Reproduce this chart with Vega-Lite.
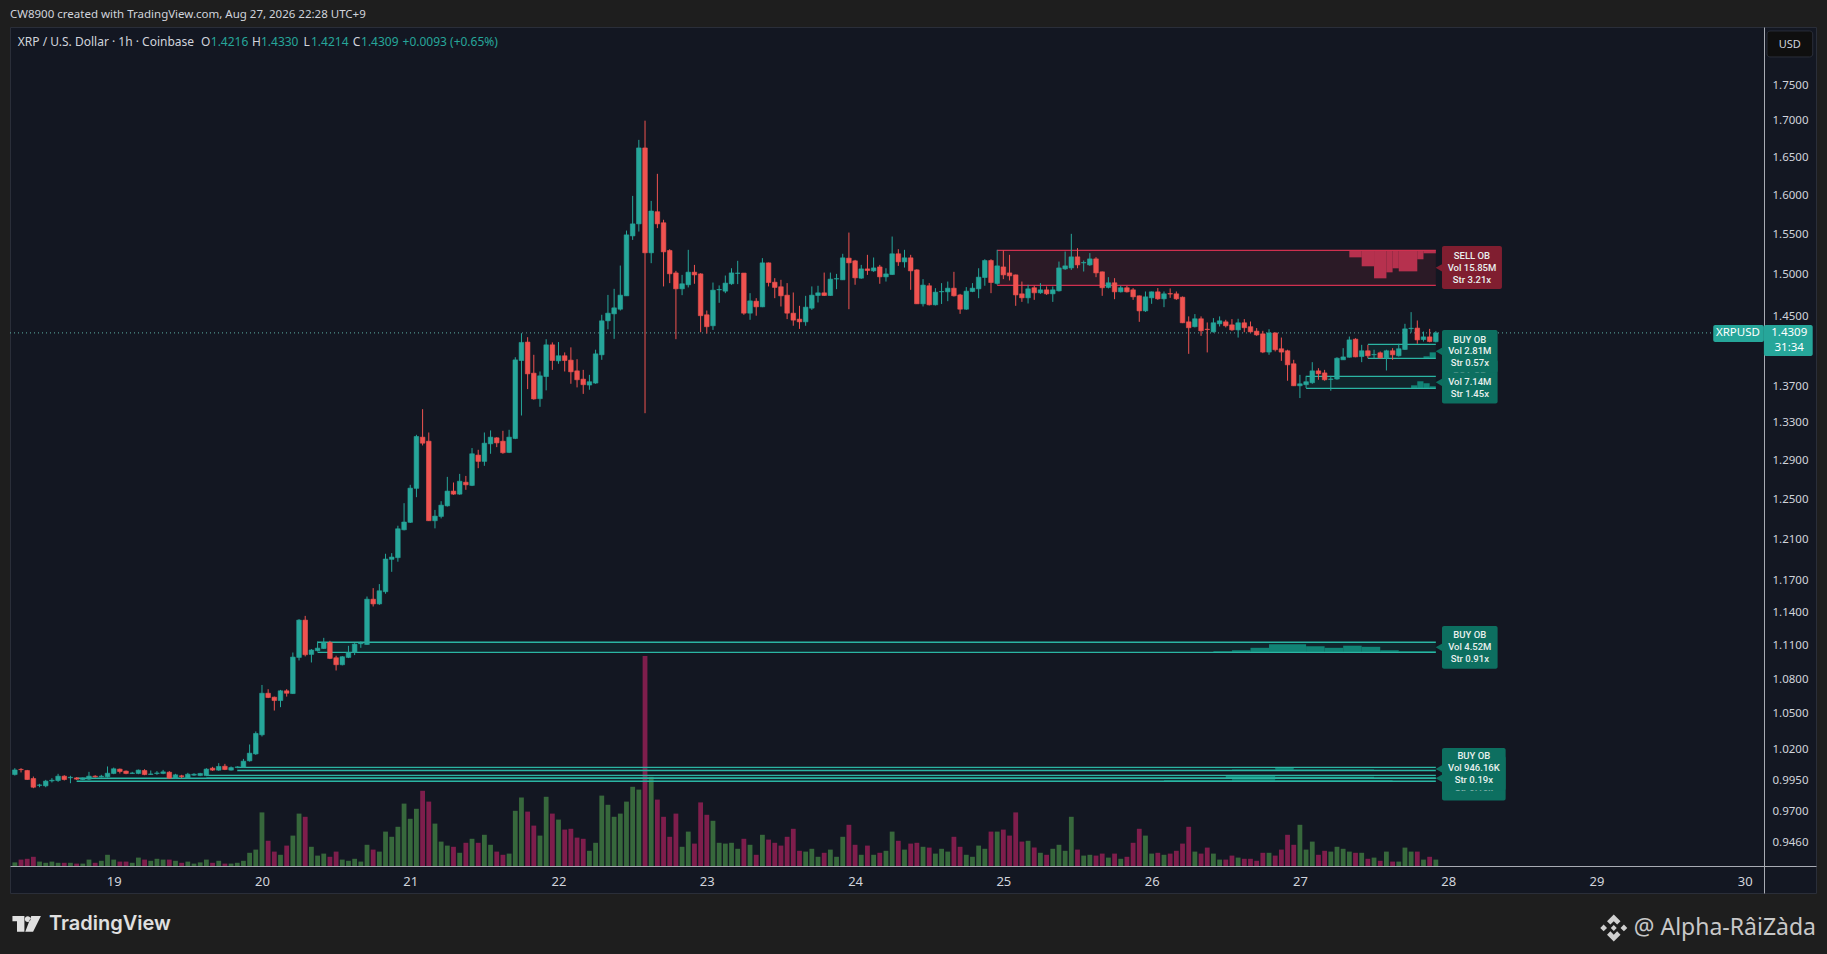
{"$schema":"https://vega.github.io/schema/vega-lite/v6.json","width":1806,"height":866,"padding":{"left":10,"top":27,"right":11,"bottom":61},"autosize":{"type":"none"},"background":"#1e1e1e","config":{"view":{"fill":"#131722","stroke":"#2a2e39"},"axis":{"grid":false,"ticks":false}},
"title":{"text":"CW8900 created with TradingView.com, Aug 27, 2026 22:28 UTC+9","anchor":"start","frame":"group","offset":7,"color":"#d1d4dc","font":"Noto Sans","fontSize":11.5,"fontWeight":"normal"},
"datasets":{
"candles":[
{"t":"2026-08-18T08:00Z","o":0.9986,"h":1.0038,"l":0.9978,"c":1.0024,"v":0.9},
{"t":"2026-08-18T09:00Z","o":1.0028,"h":1.0038,"l":1.0003,"c":1.0026,"v":1.6},
{"t":"2026-08-18T10:00Z","o":1.0019,"h":1.0024,"l":0.9943,"c":0.9946,"v":1.8},
{"t":"2026-08-18T11:00Z","o":0.9954,"h":0.997,"l":0.9876,"c":0.9884,"v":2.3},
{"t":"2026-08-18T12:00Z","o":0.9899,"h":0.9911,"l":0.9884,"c":0.9902,"v":1.1},
{"t":"2026-08-18T13:00Z","o":0.9895,"h":0.9943,"l":0.9884,"c":0.9933,"v":0.8},
{"t":"2026-08-18T14:00Z","o":0.9935,"h":0.9957,"l":0.9922,"c":0.994,"v":1.1},
{"t":"2026-08-18T15:00Z","o":0.9938,"h":0.9992,"l":0.9927,"c":0.9973,"v":0.8},
{"t":"2026-08-18T16:00Z","o":0.9973,"h":0.9981,"l":0.9938,"c":0.9946,"v":0.8},
{"t":"2026-08-18T17:00Z","o":0.996,"h":0.9976,"l":0.9916,"c":0.9964,"v":0.8},
{"t":"2026-08-18T18:00Z","o":0.9959,"h":0.9965,"l":0.9943,"c":0.9949,"v":0.6},
{"t":"2026-08-18T19:00Z","o":0.9946,"h":0.9962,"l":0.9941,"c":0.9957,"v":0.6},
{"t":"2026-08-18T20:00Z","o":0.9949,"h":1.0008,"l":0.9943,"c":0.9973,"v":1.6},
{"t":"2026-08-18T21:00Z","o":0.9973,"h":0.9981,"l":0.9962,"c":0.9968,"v":0.8},
{"t":"2026-08-18T22:00Z","o":0.9968,"h":0.9984,"l":0.9962,"c":0.9973,"v":1.3},
{"t":"2026-08-18T23:00Z","o":0.9968,"h":1.0052,"l":0.9962,"c":0.9997,"v":2.8},
{"t":"2026-08-19T00:00Z","o":0.9995,"h":1.0043,"l":0.9989,"c":1.0033,"v":1.6},
{"t":"2026-08-19T01:00Z","o":1.003,"h":1.0035,"l":0.9995,"c":1.0011,"v":1.1},
{"t":"2026-08-19T02:00Z","o":1.0014,"h":1.0019,"l":0.9989,"c":0.9995,"v":1.1},
{"t":"2026-08-19T03:00Z","o":0.9995,"h":1.0008,"l":0.9992,"c":0.9999,"v":0.8},
{"t":"2026-08-19T04:00Z","o":0.9995,"h":1.0027,"l":0.9989,"c":1.0022,"v":2.1},
{"t":"2026-08-19T05:00Z","o":1.0019,"h":1.003,"l":0.9981,"c":0.9986,"v":1.6},
{"t":"2026-08-19T06:00Z","o":0.9987,"h":1.0019,"l":0.9984,"c":0.9991,"v":1.3},
{"t":"2026-08-19T07:00Z","o":0.9995,"h":1.0014,"l":0.9984,"c":0.9999,"v":1.8},
{"t":"2026-08-19T08:00Z","o":0.9995,"h":1.0024,"l":0.9989,"c":1.0008,"v":1.6},
{"t":"2026-08-19T09:00Z","o":1.0005,"h":1.0014,"l":0.9951,"c":0.9957,"v":1.6},
{"t":"2026-08-19T10:00Z","o":0.9957,"h":0.9992,"l":0.9951,"c":0.9984,"v":1.3},
{"t":"2026-08-19T11:00Z","o":0.9976,"h":0.9984,"l":0.9957,"c":0.997,"v":0.8},
{"t":"2026-08-19T12:00Z","o":0.9959,"h":1.0,"l":0.9954,"c":0.9989,"v":1.1},
{"t":"2026-08-19T13:00Z","o":0.9981,"h":0.9997,"l":0.9976,"c":0.9989,"v":0.6},
{"t":"2026-08-19T14:00Z","o":0.9978,"h":1.0,"l":0.9973,"c":0.9995,"v":0.9},
{"t":"2026-08-19T15:00Z","o":0.9978,"h":1.0038,"l":0.9973,"c":1.003,"v":1.6},
{"t":"2026-08-19T16:00Z","o":1.0038,"h":1.0049,"l":1.0016,"c":1.0022,"v":0.8},
{"t":"2026-08-19T17:00Z","o":1.0022,"h":1.0079,"l":1.0016,"c":1.0052,"v":1.3},
{"t":"2026-08-19T18:00Z","o":1.0054,"h":1.0073,"l":1.0022,"c":1.0027,"v":0.6},
{"t":"2026-08-19T19:00Z","o":1.0022,"h":1.0052,"l":1.0019,"c":1.0043,"v":0.6},
{"t":"2026-08-19T20:00Z","o":1.0044,"h":1.0054,"l":1.0038,"c":1.0048,"v":0.8},
{"t":"2026-08-19T21:00Z","o":1.0046,"h":1.0114,"l":1.0041,"c":1.0095,"v":1.3},
{"t":"2026-08-19T22:00Z","o":1.0098,"h":1.0233,"l":1.0092,"c":1.0161,"v":3.3},
{"t":"2026-08-19T23:00Z","o":1.0155,"h":1.0342,"l":1.0147,"c":1.0325,"v":4.1},
{"t":"2026-08-20T00:00Z","o":1.0314,"h":1.074,"l":1.03,"c":1.0668,"v":13.4},
{"t":"2026-08-20T01:00Z","o":1.0668,"h":1.0703,"l":1.0626,"c":1.0631,"v":6.3},
{"t":"2026-08-20T02:00Z","o":1.0634,"h":1.0639,"l":1.0519,"c":1.0605,"v":3.6},
{"t":"2026-08-20T03:00Z","o":1.0605,"h":1.0697,"l":1.0548,"c":1.0689,"v":2.8},
{"t":"2026-08-20T04:00Z","o":1.0689,"h":1.0703,"l":1.0639,"c":1.0668,"v":5.1},
{"t":"2026-08-20T05:00Z","o":1.0665,"h":1.1027,"l":1.0662,"c":1.0986,"v":7.6},
{"t":"2026-08-20T06:00Z","o":1.0983,"h":1.133,"l":1.0956,"c":1.1321,"v":13.1},
{"t":"2026-08-20T07:00Z","o":1.1321,"h":1.136,"l":1.0992,"c":1.1007,"v":12.3},
{"t":"2026-08-20T08:00Z","o":1.101,"h":1.1058,"l":1.0938,"c":1.1049,"v":4.8},
{"t":"2026-08-20T09:00Z","o":1.1043,"h":1.1126,"l":1.1037,"c":1.1066,"v":2.6},
{"t":"2026-08-20T10:00Z","o":1.1063,"h":1.1159,"l":1.1058,"c":1.1117,"v":3.1},
{"t":"2026-08-20T11:00Z","o":1.1117,"h":1.1132,"l":1.0968,"c":1.0974,"v":2.3},
{"t":"2026-08-20T12:00Z","o":1.098,"h":1.0998,"l":1.0867,"c":1.0918,"v":3.6},
{"t":"2026-08-20T13:00Z","o":1.0918,"h":1.0995,"l":1.0912,"c":1.0989,"v":1.6},
{"t":"2026-08-20T14:00Z","o":1.0983,"h":1.1087,"l":1.0977,"c":1.1027,"v":1.3},
{"t":"2026-08-20T15:00Z","o":1.1027,"h":1.1111,"l":1.1004,"c":1.1102,"v":1.8},
{"t":"2026-08-20T16:00Z","o":1.1106,"h":1.1126,"l":1.1069,"c":1.1111,"v":1.1},
{"t":"2026-08-20T17:00Z","o":1.1099,"h":1.154,"l":1.1096,"c":1.1515,"v":5.3},
{"t":"2026-08-20T18:00Z","o":1.1515,"h":1.1619,"l":1.1447,"c":1.1471,"v":4.1},
{"t":"2026-08-20T19:00Z","o":1.1471,"h":1.1657,"l":1.1462,"c":1.1594,"v":3.6},
{"t":"2026-08-20T20:00Z","o":1.1585,"h":1.1948,"l":1.1566,"c":1.1897,"v":8.6},
{"t":"2026-08-20T21:00Z","o":1.1894,"h":1.1954,"l":1.1774,"c":1.1916,"v":7.3},
{"t":"2026-08-20T22:00Z","o":1.191,"h":1.2223,"l":1.1871,"c":1.2193,"v":9.8},
{"t":"2026-08-20T23:00Z","o":1.2183,"h":1.2449,"l":1.2177,"c":1.226,"v":15.6},
{"t":"2026-08-21T00:00Z","o":1.2257,"h":1.2636,"l":1.225,"c":1.2602,"v":11.8},
{"t":"2026-08-21T01:00Z","o":1.26,"h":1.316,"l":1.251,"c":1.3142,"v":14.3},
{"t":"2026-08-21T02:00Z","o":1.3135,"h":1.3437,"l":1.3047,"c":1.3071,"v":18.8},
{"t":"2026-08-21T03:00Z","o":1.3092,"h":1.3185,"l":1.227,"c":1.2273,"v":16.1},
{"t":"2026-08-21T04:00Z","o":1.2273,"h":1.2381,"l":1.2197,"c":1.2319,"v":10.6},
{"t":"2026-08-21T05:00Z","o":1.2316,"h":1.2469,"l":1.2296,"c":1.2429,"v":6.1},
{"t":"2026-08-21T06:00Z","o":1.2422,"h":1.2718,"l":1.2415,"c":1.2572,"v":5.1},
{"t":"2026-08-21T07:00Z","o":1.2572,"h":1.266,"l":1.2534,"c":1.2541,"v":4.8},
{"t":"2026-08-21T08:00Z","o":1.2541,"h":1.2749,"l":1.2534,"c":1.2673,"v":3.3},
{"t":"2026-08-21T09:00Z","o":1.2663,"h":1.2728,"l":1.2585,"c":1.2636,"v":5.8},
{"t":"2026-08-21T10:00Z","o":1.263,"h":1.3019,"l":1.2623,"c":1.2959,"v":6.8},
{"t":"2026-08-21T11:00Z","o":1.2945,"h":1.3001,"l":1.2808,"c":1.2879,"v":5.8},
{"t":"2026-08-21T12:00Z","o":1.2879,"h":1.3185,"l":1.2833,"c":1.3071,"v":7.8},
{"t":"2026-08-21T13:00Z","o":1.3064,"h":1.3207,"l":1.2959,"c":1.3135,"v":5.3},
{"t":"2026-08-21T14:00Z","o":1.3128,"h":1.3135,"l":1.3029,"c":1.3074,"v":3.6},
{"t":"2026-08-21T15:00Z","o":1.3092,"h":1.3203,"l":1.2959,"c":1.297,"v":2.8},
{"t":"2026-08-21T16:00Z","o":1.2973,"h":1.3214,"l":1.2966,"c":1.3135,"v":3.1},
{"t":"2026-08-21T17:00Z","o":1.3121,"h":1.4016,"l":1.3114,"c":1.3986,"v":13.8},
{"t":"2026-08-21T18:00Z","o":1.3979,"h":1.4292,"l":1.3368,"c":1.4186,"v":17.1},
{"t":"2026-08-21T19:00Z","o":1.419,"h":1.4246,"l":1.3658,"c":1.3828,"v":13.6},
{"t":"2026-08-21T20:00Z","o":1.3836,"h":1.4044,"l":1.3541,"c":1.3549,"v":10.1},
{"t":"2026-08-21T21:00Z","o":1.3552,"h":1.3855,"l":1.3463,"c":1.3806,"v":7.6},
{"t":"2026-08-21T22:00Z","o":1.3798,"h":1.4223,"l":1.3644,"c":1.4158,"v":17.3},
{"t":"2026-08-21T23:00Z","o":1.4158,"h":1.4186,"l":1.3873,"c":1.3979,"v":13.1},
{"t":"2026-08-22T00:00Z","o":1.3975,"h":1.419,"l":1.3942,"c":1.4033,"v":11.6},
{"t":"2026-08-22T01:00Z","o":1.4033,"h":1.4071,"l":1.3855,"c":1.3979,"v":9.1},
{"t":"2026-08-22T02:00Z","o":1.3983,"h":1.4129,"l":1.3717,"c":1.3851,"v":9.3},
{"t":"2026-08-22T03:00Z","o":1.3862,"h":1.3994,"l":1.3677,"c":1.3762,"v":7.1},
{"t":"2026-08-22T04:00Z","o":1.3769,"h":1.3873,"l":1.3605,"c":1.3707,"v":6.8},
{"t":"2026-08-22T05:00Z","o":1.3703,"h":1.3817,"l":1.3651,"c":1.374,"v":3.8},
{"t":"2026-08-22T06:00Z","o":1.3725,"h":1.4102,"l":1.3717,"c":1.4055,"v":5.8},
{"t":"2026-08-22T07:00Z","o":1.4044,"h":1.4508,"l":1.3987,"c":1.4437,"v":17.6},
{"t":"2026-08-22T08:00Z","o":1.4437,"h":1.4744,"l":1.4338,"c":1.4527,"v":15.3},
{"t":"2026-08-22T09:00Z","o":1.4519,"h":1.4817,"l":1.4227,"c":1.459,"v":12.3},
{"t":"2026-08-22T10:00Z","o":1.4574,"h":1.51,"l":1.4558,"c":1.4741,"v":13.1},
{"t":"2026-08-22T11:00Z","o":1.4733,"h":1.5535,"l":1.4733,"c":1.5481,"v":16.1},
{"t":"2026-08-22T12:00Z","o":1.5468,"h":1.5979,"l":1.5418,"c":1.562,"v":19.8},
{"t":"2026-08-22T13:00Z","o":1.562,"h":1.6723,"l":1.5523,"c":1.6614,"v":19.1},
{"t":"2026-08-22T14:00Z","o":1.6614,"h":1.6986,"l":1.3393,"c":1.5257,"v":52.5},
{"t":"2026-08-22T15:00Z","o":1.5257,"h":1.5914,"l":1.5129,"c":1.5784,"v":22.3},
{"t":"2026-08-22T16:00Z","o":1.5775,"h":1.6268,"l":1.5566,"c":1.562,"v":16.6},
{"t":"2026-08-22T17:00Z","o":1.5634,"h":1.5672,"l":1.4846,"c":1.5269,"v":12.3},
{"t":"2026-08-22T18:00Z","o":1.5286,"h":1.5302,"l":1.4886,"c":1.4999,"v":7.3},
{"t":"2026-08-22T19:00Z","o":1.501,"h":1.5035,"l":1.4223,"c":1.4817,"v":13.1},
{"t":"2026-08-22T20:00Z","o":1.4817,"h":1.4986,"l":1.4741,"c":1.4878,"v":4.8},
{"t":"2026-08-22T21:00Z","o":1.4866,"h":1.5294,"l":1.4834,"c":1.5019,"v":8.6},
{"t":"2026-08-22T22:00Z","o":1.5019,"h":1.5108,"l":1.4878,"c":1.4986,"v":5.6},
{"t":"2026-08-22T23:00Z","o":1.4998,"h":1.5006,"l":1.4304,"c":1.4497,"v":15.9},
{"t":"2026-08-23T00:00Z","o":1.4508,"h":1.4558,"l":1.4288,"c":1.4368,"v":12.8},
{"t":"2026-08-23T01:00Z","o":1.4379,"h":1.4893,"l":1.4331,"c":1.4801,"v":11.3},
{"t":"2026-08-23T02:00Z","o":1.4805,"h":1.4858,"l":1.465,"c":1.4809,"v":5.8},
{"t":"2026-08-23T03:00Z","o":1.4789,"h":1.4978,"l":1.4765,"c":1.4886,"v":5.6},
{"t":"2026-08-23T04:00Z","o":1.4878,"h":1.5067,"l":1.4866,"c":1.501,"v":5.8},
{"t":"2026-08-23T05:00Z","o":1.5004,"h":1.5158,"l":1.4874,"c":1.5008,"v":4.3},
{"t":"2026-08-23T06:00Z","o":1.5008,"h":1.5008,"l":1.4508,"c":1.4527,"v":6.8},
{"t":"2026-08-23T07:00Z","o":1.4527,"h":1.4765,"l":1.4449,"c":1.4673,"v":5.3},
{"t":"2026-08-23T08:00Z","o":1.4669,"h":1.4705,"l":1.4497,"c":1.4602,"v":2.8},
{"t":"2026-08-23T09:00Z","o":1.4602,"h":1.5191,"l":1.4598,"c":1.5133,"v":7.8},
{"t":"2026-08-23T10:00Z","o":1.5133,"h":1.5137,"l":1.4846,"c":1.4893,"v":6.6},
{"t":"2026-08-23T11:00Z","o":1.4897,"h":1.4946,"l":1.4705,"c":1.4834,"v":5.8},
{"t":"2026-08-23T12:00Z","o":1.4842,"h":1.4926,"l":1.4606,"c":1.4733,"v":5.1},
{"t":"2026-08-23T13:00Z","o":1.4741,"h":1.4886,"l":1.4457,"c":1.4527,"v":7.3},
{"t":"2026-08-23T14:00Z","o":1.4527,"h":1.4773,"l":1.4379,"c":1.4445,"v":9.3},
{"t":"2026-08-23T15:00Z","o":1.4457,"h":1.4614,"l":1.4343,"c":1.4425,"v":3.8},
{"t":"2026-08-23T16:00Z","o":1.4425,"h":1.4733,"l":1.4379,"c":1.4598,"v":3.6},
{"t":"2026-08-23T17:00Z","o":1.4586,"h":1.4846,"l":1.4566,"c":1.4741,"v":4.3},
{"t":"2026-08-23T18:00Z","o":1.4737,"h":1.4854,"l":1.4654,"c":1.4769,"v":2.3},
{"t":"2026-08-23T19:00Z","o":1.4769,"h":1.5014,"l":1.4733,"c":1.4737,"v":3.3},
{"t":"2026-08-23T20:00Z","o":1.4737,"h":1.5014,"l":1.4733,"c":1.4934,"v":4.1},
{"t":"2026-08-23T21:00Z","o":1.4936,"h":1.4998,"l":1.4813,"c":1.494,"v":2.3},
{"t":"2026-08-23T22:00Z","o":1.4926,"h":1.5245,"l":1.4926,"c":1.5195,"v":7.3},
{"t":"2026-08-23T23:00Z","o":1.5191,"h":1.551,"l":1.4574,"c":1.5133,"v":10.3},
{"t":"2026-08-24T00:00Z","o":1.5158,"h":1.517,"l":1.4866,"c":1.495,"v":5.3},
{"t":"2026-08-24T01:00Z","o":1.4946,"h":1.5108,"l":1.4938,"c":1.5059,"v":2.8},
{"t":"2026-08-24T02:00Z","o":1.5059,"h":1.5232,"l":1.4986,"c":1.5039,"v":5.1},
{"t":"2026-08-24T03:00Z","o":1.5035,"h":1.5199,"l":1.5023,"c":1.5071,"v":2.8},
{"t":"2026-08-24T04:00Z","o":1.5083,"h":1.5108,"l":1.4878,"c":1.4962,"v":3.3},
{"t":"2026-08-24T05:00Z","o":1.4962,"h":1.5067,"l":1.4905,"c":1.4998,"v":3.8},
{"t":"2026-08-24T06:00Z","o":1.499,"h":1.546,"l":1.4986,"c":1.5245,"v":8.6},
{"t":"2026-08-24T07:00Z","o":1.5245,"h":1.5302,"l":1.5096,"c":1.5145,"v":6.3},
{"t":"2026-08-24T08:00Z","o":1.5145,"h":1.5294,"l":1.5075,"c":1.5195,"v":4.1},
{"t":"2026-08-24T09:00Z","o":1.5195,"h":1.5232,"l":1.4805,"c":1.5035,"v":5.6},
{"t":"2026-08-24T10:00Z","o":1.5047,"h":1.5055,"l":1.4636,"c":1.4638,"v":5.8},
{"t":"2026-08-24T11:00Z","o":1.4638,"h":1.4934,"l":1.4606,"c":1.4862,"v":4.8},
{"t":"2026-08-24T12:00Z","o":1.4854,"h":1.4886,"l":1.4618,"c":1.4626,"v":4.6},
{"t":"2026-08-24T13:00Z","o":1.4626,"h":1.4825,"l":1.4618,"c":1.4777,"v":3.1},
{"t":"2026-08-24T14:00Z","o":1.4781,"h":1.4886,"l":1.4636,"c":1.4785,"v":4.3},
{"t":"2026-08-24T15:00Z","o":1.4781,"h":1.4905,"l":1.4669,"c":1.4825,"v":3.6},
{"t":"2026-08-24T16:00Z","o":1.4825,"h":1.5023,"l":1.4725,"c":1.4733,"v":7.3},
{"t":"2026-08-24T17:00Z","o":1.4744,"h":1.4757,"l":1.4519,"c":1.4574,"v":4.8},
{"t":"2026-08-24T18:00Z","o":1.4574,"h":1.4838,"l":1.4566,"c":1.4789,"v":2.8},
{"t":"2026-08-24T19:00Z","o":1.4785,"h":1.4886,"l":1.4777,"c":1.4825,"v":2.3},
{"t":"2026-08-24T20:00Z","o":1.4817,"h":1.5067,"l":1.4705,"c":1.4958,"v":5.1},
{"t":"2026-08-24T21:00Z","o":1.4954,"h":1.5178,"l":1.4854,"c":1.5162,"v":4.3},
{"t":"2026-08-24T22:00Z","o":1.5162,"h":1.5178,"l":1.4765,"c":1.4893,"v":8.6},
{"t":"2026-08-24T23:00Z","o":1.4882,"h":1.5294,"l":1.4866,"c":1.5096,"v":8.6},
{"t":"2026-08-25T00:00Z","o":1.5083,"h":1.5286,"l":1.4934,"c":1.4986,"v":9.1},
{"t":"2026-08-25T01:00Z","o":1.501,"h":1.5232,"l":1.4918,"c":1.4974,"v":7.6},
{"t":"2026-08-25T02:00Z","o":1.4986,"h":1.499,"l":1.4614,"c":1.4744,"v":13.4},
{"t":"2026-08-25T03:00Z","o":1.4757,"h":1.4905,"l":1.4661,"c":1.4709,"v":6.1},
{"t":"2026-08-25T04:00Z","o":1.4709,"h":1.4866,"l":1.4642,"c":1.4817,"v":6.3},
{"t":"2026-08-25T05:00Z","o":1.483,"h":1.4854,"l":1.4685,"c":1.4769,"v":4.6},
{"t":"2026-08-25T06:00Z","o":1.4769,"h":1.4886,"l":1.4757,"c":1.4805,"v":3.3},
{"t":"2026-08-25T07:00Z","o":1.4805,"h":1.4846,"l":1.4744,"c":1.4757,"v":2.8},
{"t":"2026-08-25T08:00Z","o":1.4757,"h":1.4846,"l":1.4661,"c":1.4805,"v":4.3},
{"t":"2026-08-25T09:00Z","o":1.4793,"h":1.5149,"l":1.4785,"c":1.5071,"v":5.3},
{"t":"2026-08-25T10:00Z","o":1.5059,"h":1.5273,"l":1.5047,"c":1.5096,"v":3.8},
{"t":"2026-08-25T11:00Z","o":1.5071,"h":1.5494,"l":1.5047,"c":1.5207,"v":12.3},
{"t":"2026-08-25T12:00Z","o":1.5207,"h":1.5315,"l":1.5067,"c":1.5108,"v":4.1},
{"t":"2026-08-25T13:00Z","o":1.5133,"h":1.5162,"l":1.5027,"c":1.5137,"v":2.6},
{"t":"2026-08-25T14:00Z","o":1.5108,"h":1.5253,"l":1.5096,"c":1.5182,"v":2.8},
{"t":"2026-08-25T15:00Z","o":1.5182,"h":1.5203,"l":1.4958,"c":1.501,"v":2.6},
{"t":"2026-08-25T16:00Z","o":1.5023,"h":1.5027,"l":1.4733,"c":1.483,"v":3.1},
{"t":"2026-08-25T17:00Z","o":1.4834,"h":1.4958,"l":1.4822,"c":1.489,"v":2.1},
{"t":"2026-08-25T18:00Z","o":1.489,"h":1.4946,"l":1.4693,"c":1.4781,"v":3.1},
{"t":"2026-08-25T19:00Z","o":1.4781,"h":1.4854,"l":1.4773,"c":1.483,"v":1.8},
{"t":"2026-08-25T20:00Z","o":1.483,"h":1.4854,"l":1.4773,"c":1.4781,"v":2.3},
{"t":"2026-08-25T21:00Z","o":1.4805,"h":1.4826,"l":1.4685,"c":1.4721,"v":5.8},
{"t":"2026-08-25T22:00Z","o":1.4733,"h":1.4737,"l":1.4425,"c":1.4554,"v":9.3},
{"t":"2026-08-25T23:00Z","o":1.4554,"h":1.4785,"l":1.4542,"c":1.4721,"v":7.6},
{"t":"2026-08-26T00:00Z","o":1.4709,"h":1.4785,"l":1.4638,"c":1.4781,"v":3.1},
{"t":"2026-08-26T01:00Z","o":1.4781,"h":1.4826,"l":1.4685,"c":1.4697,"v":3.3},
{"t":"2026-08-26T02:00Z","o":1.4697,"h":1.4785,"l":1.4598,"c":1.4757,"v":2.8},
{"t":"2026-08-26T03:00Z","o":1.4759,"h":1.4822,"l":1.4709,"c":1.4755,"v":3.1},
{"t":"2026-08-26T04:00Z","o":1.4757,"h":1.4785,"l":1.4685,"c":1.4697,"v":3.8},
{"t":"2026-08-26T05:00Z","o":1.4717,"h":1.4725,"l":1.441,"c":1.4414,"v":5.6},
{"t":"2026-08-26T06:00Z","o":1.4425,"h":1.4489,"l":1.4055,"c":1.4356,"v":9.8},
{"t":"2026-08-26T07:00Z","o":1.4368,"h":1.4516,"l":1.436,"c":1.4461,"v":3.6},
{"t":"2026-08-26T08:00Z","o":1.4461,"h":1.4489,"l":1.4262,"c":1.432,"v":3.1},
{"t":"2026-08-26T09:00Z","o":1.4339,"h":1.4418,"l":1.4071,"c":1.4335,"v":4.6},
{"t":"2026-08-26T10:00Z","o":1.4308,"h":1.4469,"l":1.43,"c":1.4414,"v":3.1},
{"t":"2026-08-26T11:00Z","o":1.4402,"h":1.4489,"l":1.4371,"c":1.4437,"v":1.6},
{"t":"2026-08-26T12:00Z","o":1.4425,"h":1.4449,"l":1.436,"c":1.4379,"v":1.6},
{"t":"2026-08-26T13:00Z","o":1.439,"h":1.4457,"l":1.432,"c":1.4331,"v":2.6},
{"t":"2026-08-26T14:00Z","o":1.4331,"h":1.4461,"l":1.4242,"c":1.4414,"v":2.1},
{"t":"2026-08-26T15:00Z","o":1.4414,"h":1.4457,"l":1.4304,"c":1.4356,"v":1.8},
{"t":"2026-08-26T16:00Z","o":1.4368,"h":1.4429,"l":1.43,"c":1.4308,"v":1.8},
{"t":"2026-08-26T17:00Z","o":1.4316,"h":1.4352,"l":1.4262,"c":1.4273,"v":1.3},
{"t":"2026-08-26T18:00Z","o":1.4285,"h":1.432,"l":1.4063,"c":1.4075,"v":3.3},
{"t":"2026-08-26T19:00Z","o":1.4075,"h":1.4339,"l":1.4044,"c":1.4296,"v":3.3},
{"t":"2026-08-26T20:00Z","o":1.4296,"h":1.43,"l":1.4082,"c":1.4102,"v":2.6},
{"t":"2026-08-26T21:00Z","o":1.4113,"h":1.4242,"l":1.3975,"c":1.4075,"v":4.1},
{"t":"2026-08-26T22:00Z","o":1.409,"h":1.4102,"l":1.3751,"c":1.393,"v":7.8},
{"t":"2026-08-26T23:00Z","o":1.3942,"h":1.3987,"l":1.3692,"c":1.3695,"v":5.3},
{"t":"2026-08-27T00:00Z","o":1.3695,"h":1.3817,"l":1.3559,"c":1.3717,"v":10.3},
{"t":"2026-08-27T01:00Z","o":1.3707,"h":1.3806,"l":1.367,"c":1.374,"v":4.1},
{"t":"2026-08-27T02:00Z","o":1.3729,"h":1.396,"l":1.3717,"c":1.3862,"v":6.1},
{"t":"2026-08-27T03:00Z","o":1.3862,"h":1.3892,"l":1.3762,"c":1.3828,"v":2.8},
{"t":"2026-08-27T04:00Z","o":1.3839,"h":1.3873,"l":1.3751,"c":1.3762,"v":3.8},
{"t":"2026-08-27T05:00Z","o":1.3766,"h":1.3806,"l":1.364,"c":1.377,"v":3.6},
{"t":"2026-08-27T06:00Z","o":1.377,"h":1.4016,"l":1.3762,"c":1.4005,"v":4.8},
{"t":"2026-08-27T07:00Z","o":1.3987,"h":1.412,"l":1.3987,"c":1.402,"v":4.3},
{"t":"2026-08-27T08:00Z","o":1.4016,"h":1.4254,"l":1.4012,"c":1.4215,"v":3.6},
{"t":"2026-08-27T09:00Z","o":1.4223,"h":1.4234,"l":1.4016,"c":1.402,"v":3.3},
{"t":"2026-08-27T10:00Z","o":1.4024,"h":1.4158,"l":1.396,"c":1.409,"v":3.3},
{"t":"2026-08-27T11:00Z","o":1.409,"h":1.4158,"l":1.4005,"c":1.4033,"v":1.8},
{"t":"2026-08-27T12:00Z","o":1.4044,"h":1.4102,"l":1.4005,"c":1.4048,"v":2.1},
{"t":"2026-08-27T13:00Z","o":1.4067,"h":1.4082,"l":1.4001,"c":1.4009,"v":1.3},
{"t":"2026-08-27T14:00Z","o":1.4009,"h":1.4102,"l":1.3866,"c":1.409,"v":3.6},
{"t":"2026-08-27T15:00Z","o":1.409,"h":1.412,"l":1.3987,"c":1.4044,"v":1.1},
{"t":"2026-08-27T16:00Z","o":1.4033,"h":1.417,"l":1.4024,"c":1.4113,"v":1.1},
{"t":"2026-08-27T17:00Z","o":1.4105,"h":1.4402,"l":1.4102,"c":1.4343,"v":4.6},
{"t":"2026-08-27T18:00Z","o":1.4345,"h":1.4539,"l":1.43,"c":1.435,"v":3.6},
{"t":"2026-08-27T19:00Z","o":1.4352,"h":1.4441,"l":1.417,"c":1.4215,"v":3.6},
{"t":"2026-08-27T20:00Z","o":1.4219,"h":1.4312,"l":1.4196,"c":1.425,"v":1.6},
{"t":"2026-08-27T21:00Z","o":1.425,"h":1.4343,"l":1.4188,"c":1.4196,"v":2.3},
{"t":"2026-08-27T22:00Z","o":1.4194,"h":1.4316,"l":1.4186,"c":1.4296,"v":1.6}
],
"blocks":[
{"side":"sell","t":"2026-08-24T23:00Z","t2":"2026-08-27T22:00Z","top":1.5288,"bottom":1.4859},
{"side":"buy","t":"2026-08-27T11:00Z","t2":"2026-08-27T22:00Z","top":1.4164,"bottom":1.4004},
{"side":"buy","t":"2026-08-27T01:00Z","t2":"2026-08-27T22:00Z","top":1.3801,"bottom":1.3667},
{"side":"buy","t":"2026-08-20T09:00Z","t2":"2026-08-27T22:00Z","top":1.1119,"bottom":1.1029},
{"side":"buy","t":"2026-08-19T20:00Z","t2":"2026-08-27T22:00Z","top":1.0045,"bottom":1.0019},
{"side":"buy","t":"2026-08-19T15:00Z","t2":"2026-08-27T22:00Z","top":0.9979,"bottom":0.9956},
{"side":"buy","t":"2026-08-18T18:00Z","t2":"2026-08-27T22:00Z","top":0.9956,"bottom":0.9932}
],
"profile":[
{"side":"sell","t":"2026-08-27T08:00Z","t2":"2026-08-27T10:00Z","p0":1.5288,"p1":1.5201},
{"side":"sell","t":"2026-08-27T10:00Z","t2":"2026-08-27T12:00Z","p0":1.5288,"p1":1.5091},
{"side":"sell","t":"2026-08-27T12:00Z","t2":"2026-08-27T14:00Z","p0":1.5288,"p1":1.4944},
{"side":"sell","t":"2026-08-27T14:00Z","t2":"2026-08-27T15:00Z","p0":1.5288,"p1":1.5017},
{"side":"sell","t":"2026-08-27T15:00Z","t2":"2026-08-27T16:00Z","p0":1.5288,"p1":1.5066},
{"side":"sell","t":"2026-08-27T16:00Z","t2":"2026-08-27T19:00Z","p0":1.5288,"p1":1.5029},
{"side":"sell","t":"2026-08-27T19:00Z","t2":"2026-08-27T20:00Z","p0":1.5288,"p1":1.5177},
{"side":"sell","t":"2026-08-27T20:00Z","t2":"2026-08-27T22:00Z","p0":1.5288,"p1":1.5251},
{"side":"buy","t":"2026-08-27T20:00Z","t2":"2026-08-27T21:00Z","p0":1.4004,"p1":1.4027},
{"side":"buy","t":"2026-08-27T21:00Z","t2":"2026-08-27T22:00Z","p0":1.4004,"p1":1.4072},
{"side":"buy","t":"2026-08-27T18:00Z","t2":"2026-08-27T19:00Z","p0":1.3667,"p1":1.37},
{"side":"buy","t":"2026-08-27T19:00Z","t2":"2026-08-27T20:00Z","p0":1.3667,"p1":1.3745},
{"side":"buy","t":"2026-08-27T20:00Z","t2":"2026-08-27T21:00Z","p0":1.3667,"p1":1.3723},
{"side":"buy","t":"2026-08-27T21:00Z","t2":"2026-08-27T22:00Z","p0":1.3667,"p1":1.3689},
{"side":"buy","t":"2026-08-26T10:00Z","t2":"2026-08-26T13:00Z","p0":1.1029,"p1":1.1038},
{"side":"buy","t":"2026-08-26T13:00Z","t2":"2026-08-26T16:00Z","p0":1.1029,"p1":1.1047},
{"side":"buy","t":"2026-08-26T16:00Z","t2":"2026-08-26T19:00Z","p0":1.1029,"p1":1.1069},
{"side":"buy","t":"2026-08-26T19:00Z","t2":"2026-08-27T01:00Z","p0":1.1029,"p1":1.1101},
{"side":"buy","t":"2026-08-27T01:00Z","t2":"2026-08-27T04:00Z","p0":1.1029,"p1":1.1083},
{"side":"buy","t":"2026-08-27T04:00Z","t2":"2026-08-27T07:00Z","p0":1.1029,"p1":1.1069},
{"side":"buy","t":"2026-08-27T07:00Z","t2":"2026-08-27T10:00Z","p0":1.1029,"p1":1.1088},
{"side":"buy","t":"2026-08-27T10:00Z","t2":"2026-08-27T13:00Z","p0":1.1029,"p1":1.1078},
{"side":"buy","t":"2026-08-27T13:00Z","t2":"2026-08-27T16:00Z","p0":1.1029,"p1":1.1047},
{"side":"buy","t":"2026-08-27T16:00Z","t2":"2026-08-27T22:00Z","p0":1.1029,"p1":1.1038},
{"side":"buy","t":"2026-08-26T13:00Z","t2":"2026-08-26T20:00Z","p0":1.0019,"p1":1.0027},
{"side":"buy","t":"2026-08-26T20:00Z","t2":"2026-08-26T23:00Z","p0":1.0019,"p1":1.0045},
{"side":"buy","t":"2026-08-26T23:00Z","t2":"2026-08-27T12:00Z","p0":1.0019,"p1":1.0027},
{"side":"buy","t":"2026-08-26T12:00Z","t2":"2026-08-26T20:00Z","p0":0.9956,"p1":0.9979},
{"side":"buy","t":"2026-08-26T20:00Z","t2":"2026-08-27T12:00Z","p0":0.9956,"p1":0.9968},
{"side":"buy","t":"2026-08-26T02:00Z","t2":"2026-08-26T13:00Z","p0":0.9932,"p1":0.994},
{"side":"buy","t":"2026-08-26T13:00Z","t2":"2026-08-26T20:00Z","p0":0.9932,"p1":0.9948},
{"side":"buy","t":"2026-08-26T20:00Z","t2":"2026-08-27T15:00Z","p0":0.9932,"p1":0.994}
],
"labels":[
{"tier":0,"side":"buy","t":"2026-08-27T23:00Z","t2":"2026-08-28T09:18Z","tm":"2026-08-28T04:09Z","top":1.0137,"bottom":0.9778,"mid":0.9976,"pin":0.9956,"text":"BUY OB\nVol 812.40K\nStr 0.16x"},
{"tier":0,"side":"buy","t":"2026-08-27T23:00Z","t2":"2026-08-28T08:00Z","tm":"2026-08-28T03:30Z","top":1.3988,"bottom":1.3498,"mid":1.3734,"pin":1.3734,"text":"BUY OB\nVol 7.14M\nStr 1.45x"},
{"tier":1,"side":"buy","t":"2026-08-27T23:00Z","t2":"2026-08-28T09:18Z","tm":"2026-08-28T04:09Z","top":1.0203,"bottom":0.9858,"mid":1.004,"pin":1.0032,"text":"BUY OB\nVol 946.16K\nStr 0.19x"},
{"tier":1,"side":"buy","t":"2026-08-27T23:00Z","t2":"2026-08-28T08:00Z","tm":"2026-08-28T03:30Z","top":1.433,"bottom":1.384,"mid":1.4083,"pin":1.4084,"text":"BUY OB\nVol 2.81M\nStr 0.57x"},
{"tier":1,"side":"buy","t":"2026-08-27T23:00Z","t2":"2026-08-28T08:00Z","tm":"2026-08-28T03:30Z","top":1.1267,"bottom":1.0883,"mid":1.1074,"pin":1.1074,"text":"BUY OB\nVol 4.52M\nStr 0.91x"},
{"tier":1,"side":"sell","t":"2026-08-27T23:00Z","t2":"2026-08-28T08:42Z","tm":"2026-08-28T03:51Z","top":1.5342,"bottom":1.4816,"mid":1.5072,"pin":1.5072,"text":"SELL OB\nVol 15.85M\nStr 3.21x"}
],
"last":[{"t":"2026-08-18T07:13Z","t2":"2026-08-29T18:54Z","p":1.4296}],
"chips":[
{"t":"2026-08-29T18:54Z","t2":"2026-08-30T03:06Z","top":1.4389,"bottom":1.4191},
{"t":"2026-08-30T03:06Z","t2":"2026-08-30T11:00Z","top":1.4389,"bottom":1.403}
],
"chipText":[
{"t":"2026-08-29T22:54Z","p":1.4296,"text":"XRPUSD"},
{"t":"2026-08-30T07:12Z","p":1.4296,"text":"1.4309"},
{"t":"2026-08-30T07:12Z","p":1.4122,"text":"31:34"}
],
"usd":[{"t":"2026-08-30T03:36Z","t2":"2026-08-30T11:00Z","top":1.827,"bottom":1.7888,"tm":"2026-08-30T07:18Z","mid":1.807,"text":"USD"}],
"header":[
{"t":"2026-08-18T08:29Z","kind":"name","text":"XRP / U.S. Dollar · 1h · Coinbase"},
{"t":"2026-08-19T14:07Z","kind":"name","text":"O"},
{"t":"2026-08-19T15:43Z","kind":"value","text":"1.4216"},
{"t":"2026-08-19T22:23Z","kind":"name","text":"H"},
{"t":"2026-08-19T23:50Z","kind":"value","text":"1.4330"},
{"t":"2026-08-20T06:44Z","kind":"name","text":"L"},
{"t":"2026-08-20T07:56Z","kind":"value","text":"1.4214"},
{"t":"2026-08-20T14:41Z","kind":"name","text":"C"},
{"t":"2026-08-20T16:02Z","kind":"value","text":"1.4309"},
{"t":"2026-08-20T22:45Z","kind":"value","text":"+0.0093 (+0.65%)"}
],
"brand":[{"t":"2026-08-18T13:32Z","p":0.8845,"text":"TradingView"}],
"logo":[{"t":"2026-08-18T09:55Z","p":0.8845}],
"binance":[{"t":"2026-08-29T02:48Z","p":0.8816}],
"watermark":[{"t":"2026-08-30T11:32Z","p":0.8816,"text":"@ Alpha-RâiZàda"}]
},
"encoding":{"x":{"field":"t","type":"temporal","title":null,"scale":{"type":"utc","padding":0,"domain":["2026-08-18T07:13:00Z","2026-08-30T11:32:00Z"]},"axis":{"title":null,"orient":"bottom","offset":-27,"grid":false,"ticks":false,"domainColor":"#a8abb3","domainWidth":1,"values":["2026-08-19T00:00:00Z","2026-08-20T00:00:00Z","2026-08-21T00:00:00Z","2026-08-22T00:00:00Z","2026-08-23T00:00:00Z","2026-08-24T00:00:00Z","2026-08-25T00:00:00Z","2026-08-26T00:00:00Z","2026-08-27T00:00:00Z","2026-08-28T00:00:00Z","2026-08-29T00:00:00Z","2026-08-30T00:00:00Z"],"labelExpr":"utcFormat(datum.value,'%-d')","labelColor":"#d1d4dc","labelFont":"Noto Sans","labelFontSize":13,"labelPadding":9,"labelOverlap":false,"labelFlush":false}}},
"resolve":{"scale":{"y":"independent"}},
"layer":[
{"data":{"name":"candles"},"mark":{"type":"bar","size":4.8},"encoding":{"y":{"field":"v","type":"quantitative","title":null,"axis":null,"scale":{"domain":[0,209.75],"range":[839,0],"nice":false,"zero":true}},"color":{"condition":{"test":"datum.c>=datum.o","value":"#37683c"},"value":"#7e1e4c"}}},
{"layer":[
{"data":{"name":"blocks"},"mark":{"type":"rect"},"encoding":{"x2":{"field":"t2"},"y":{"field":"top","type":"quantitative","title":null},"y2":{"field":"bottom"},"color":{"condition":{"test":"datum.side=='sell'","value":"#f23645"},"value":"#089981"},"opacity":{"value":0.11}}},
{"data":{"name":"profile"},"mark":{"type":"rect"},"encoding":{"x2":{"field":"t2"},"y":{"field":"p0","type":"quantitative","title":null},"y2":{"field":"p1"},"color":{"condition":{"test":"datum.side=='sell'","value":"#e63a5c"},"value":"#12a48f"},"opacity":{"value":0.75}}},
{"data":{"name":"blocks"},"mark":{"type":"rule","strokeWidth":1.3},"encoding":{"x2":{"field":"t2"},"y":{"field":"top","type":"quantitative","title":null},"color":{"condition":{"test":"datum.side=='sell'","value":"#d0304f"},"value":"#2bb5a3"}}},
{"data":{"name":"blocks"},"mark":{"type":"rule","strokeWidth":1.3},"encoding":{"x2":{"field":"t2"},"y":{"field":"bottom","type":"quantitative","title":null},"color":{"condition":{"test":"datum.side=='sell'","value":"#d0304f"},"value":"#2bb5a3"}}},
{"data":{"name":"last"},"mark":{"type":"rule","strokeWidth":1,"strokeDash":[1,3],"color":"#5fb0a6"},"encoding":{"x2":{"field":"t2"},"y":{"field":"p","type":"quantitative","title":null}}},
{"data":{"name":"candles"},"mark":{"type":"rule","strokeWidth":1},"encoding":{"y":{"field":"l","type":"quantitative","title":null,"scale":{"type":"log","domain":[0.907,1.8329],"nice":false,"zero":false},"axis":{"title":null,"orient":"right","offset":-52,"grid":false,"ticks":false,"domainColor":"#a8abb3","domainWidth":1,"values":[1.75,1.7,1.65,1.6,1.55,1.5,1.45,1.37,1.33,1.29,1.25,1.21,1.17,1.14,1.11,1.08,1.05,1.02,0.995,0.97,0.946],"format":".4f","labelColor":"#d1d4dc","labelFont":"Noto Sans","labelFontSize":11.5,"labelPadding":8,"labelOffset":1.2,"labelOverlap":false,"labelFlush":false}},"y2":{"field":"h"},"color":{"condition":{"test":"datum.c>=datum.o","value":"#26a69a"},"value":"#ef5350"}}},
{"data":{"name":"candles"},"mark":{"type":"bar","size":4.6,"strokeWidth":0.6},"encoding":{"y":{"field":"o","type":"quantitative","title":null},"y2":{"field":"c"},"color":{"condition":{"test":"datum.c>=datum.o","value":"#26a69a"},"value":"#ef5350"},"stroke":{"condition":{"test":"datum.c>=datum.o","value":"#26a69a"},"value":"#ef5350"}}},
{"data":{"name":"labels"},"transform":[{"filter":"datum.tier==0"}],"mark":{"type":"point","shape":"triangle-left","filled":true,"size":60,"xOffset":-3,"opacity":1},"encoding":{"y":{"field":"pin","type":"quantitative","title":null},"color":{"value":"#0d6f60"}}},
{"data":{"name":"labels"},"transform":[{"filter":"datum.tier==0"}],"mark":{"type":"rect","cornerRadius":2,"color":"#0d6f60"},"encoding":{"x2":{"field":"t2"},"y":{"field":"top","type":"quantitative","title":null},"y2":{"field":"bottom"}}},
{"data":{"name":"labels"},"transform":[{"filter":"datum.tier==0"}],"mark":{"type":"text","lineBreak":"\n","lineHeight":11.8,"dy":-11.8,"font":"Roboto","fontSize":9.5,"fontWeight":500,"color":"#e8f0ee","align":"center","baseline":"middle"},"encoding":{"x":{"field":"tm","type":"temporal","title":null,"axis":{"labelExpr":"utcFormat(datum.value,'%-d')"}},"y":{"field":"mid","type":"quantitative","title":null},"text":{"field":"text"}}},
{"data":{"name":"labels"},"transform":[{"filter":"datum.tier==1"}],"mark":{"type":"point","shape":"triangle-left","filled":true,"size":60,"xOffset":-3,"opacity":1},"encoding":{"y":{"field":"pin","type":"quantitative","title":null},"color":{"condition":{"test":"datum.side=='sell'","value":"#801e30"},"value":"#0d6f60"}}},
{"data":{"name":"labels"},"transform":[{"filter":"datum.tier==1"}],"mark":{"type":"rect","cornerRadius":2},"encoding":{"x2":{"field":"t2"},"y":{"field":"top","type":"quantitative","title":null},"y2":{"field":"bottom"},"color":{"condition":{"test":"datum.side=='sell'","value":"#801e30"},"value":"#0d6f60"}}},
{"data":{"name":"labels"},"transform":[{"filter":"datum.tier==1"}],"mark":{"type":"text","lineBreak":"\n","lineHeight":11.8,"dy":-11.8,"font":"Roboto","fontSize":9.5,"fontWeight":500,"color":"#e8f0ee","align":"center","baseline":"middle"},"encoding":{"x":{"field":"tm","type":"temporal","title":null,"axis":{"labelExpr":"utcFormat(datum.value,'%-d')"}},"y":{"field":"mid","type":"quantitative","title":null},"text":{"field":"text"}}},
{"data":{"name":"chips"},"mark":{"type":"rect","cornerRadius":2,"color":"#26a69a"},"encoding":{"x2":{"field":"t2"},"y":{"field":"top","type":"quantitative","title":null},"y2":{"field":"bottom"}}},
{"data":{"name":"chipText"},"mark":{"type":"text","font":"Noto Sans","fontSize":11.5,"color":"#ffffff","align":"center","baseline":"middle"},"encoding":{"y":{"field":"p","type":"quantitative","title":null},"text":{"field":"text"}}},
{"data":{"name":"usd"},"mark":{"type":"rect","cornerRadius":3,"color":"#0f0f0f","stroke":"#2a2e39"},"encoding":{"x2":{"field":"t2"},"y":{"field":"top","type":"quantitative","title":null},"y2":{"field":"bottom"}}},
{"data":{"name":"usd"},"mark":{"type":"text","font":"Noto Sans","fontSize":11,"color":"#d1d4dc","align":"center","baseline":"middle"},"encoding":{"x":{"field":"tm","type":"temporal","title":null,"axis":{"labelExpr":"utcFormat(datum.value,'%-d')"}},"y":{"field":"mid","type":"quantitative","title":null},"text":{"field":"text"}}},
{"data":{"name":"header"},"mark":{"type":"text","font":"Noto Sans","fontSize":12,"align":"left","baseline":"middle"},"encoding":{"y":{"datum":1.8107,"type":"quantitative","title":null},"text":{"field":"text"},"color":{"condition":{"test":"datum.kind=='value'","value":"#26a69a"},"value":"#d1d4dc"}}},
{"data":{"name":"brand"},"mark":{"type":"text","font":"Inter","fontSize":20,"fontWeight":600,"color":"#e0e0e0","align":"left","baseline":"middle"},"encoding":{"y":{"field":"p","type":"quantitative","title":null},"text":{"field":"text"}}},
{"data":{"name":"logo"},"mark":{"type":"point","filled":true,"size":812,"opacity":1,"color":"#e0e0e0","strokeWidth":0,"shape":"M-1,-.56L-.16,-.56L-.16,.55L-.68,.55L-.68,-.19L-1,-.19ZM-.13,-.33a.2,.2 0 1,0 .4,0a.2,.2 0 1,0 -.4,0ZM.32,-.56L1,-.56L.45,.55L-.1,.55Z"},"encoding":{"y":{"field":"p","type":"quantitative","title":null}}},
{"data":{"name":"binance"},"mark":{"type":"point","filled":true,"size":729,"opacity":1,"color":"#d0d0d0","strokeWidth":0,"shape":"M-1,0L-.75,-.25L-.5,0L-.75,.25ZM1,0L.75,-.25L.5,0L.75,.25ZM0,-.22L.22,0L0,.22L-.22,0ZM0,-1L.5,-.5L.25,-.25L0,-.5L-.25,-.25L-.5,-.5ZM0,1L.5,.5L.25,.25L0,.5L-.25,.25L-.5,.5Z"},"encoding":{"y":{"field":"p","type":"quantitative","title":null}}},
{"data":{"name":"watermark"},"mark":{"type":"text","font":"Noto Sans","fontSize":23,"color":"#c8c8c8","align":"right","baseline":"middle"},"encoding":{"y":{"field":"p","type":"quantitative","title":null},"text":{"field":"text"}}}
]}
]}
